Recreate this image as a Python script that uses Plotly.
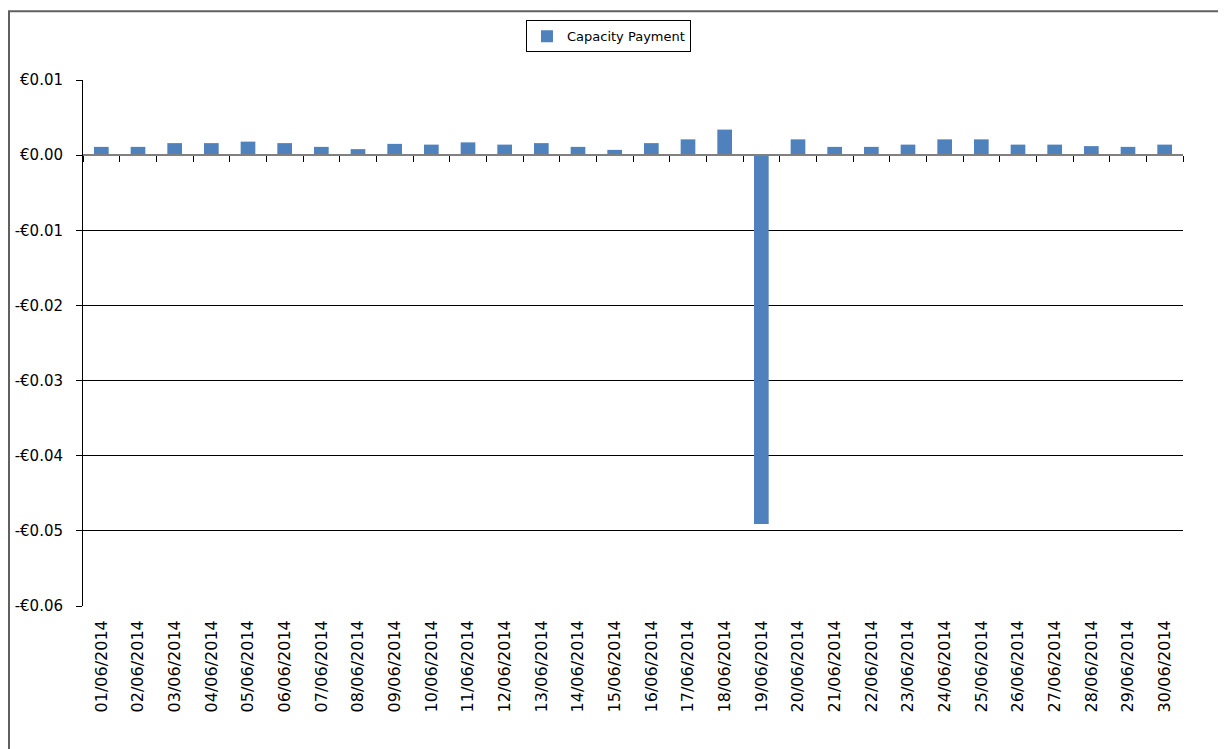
import plotly.graph_objects as go

dates = [f"{d:02d}/06/2014" for d in range(1, 31)]
values = [0.0011, 0.0011, 0.0016, 0.0016, 0.0018, 0.0016, 0.0011, 0.0008, 0.0015, 0.0014,
          0.0017, 0.0014, 0.0016, 0.0011, 0.0007, 0.0016, 0.0021, 0.0034, -0.0491, 0.0021,
          0.0011, 0.0011, 0.0014, 0.0021, 0.0021, 0.0014, 0.0014, 0.0012, 0.0011, 0.0014]
series_name = "Capacity Payment"
y_tick_vals = [0.01, 0.0, -0.01, -0.02, -0.03, -0.04, -0.05, -0.06]
y_tick_text = ["€0.01", "€0.00", "-€0.01", "-€0.02", "-€0.03", "-€0.04", "-€0.05", "-€0.06"]

FONT = "DejaVu Sans"
W, H = 1218, 741
ML, MR, MT, MB = 75, 43, 70, 143
PW, PH = W - ML - MR, H - MT - MB

fig = go.Figure()
fig.add_trace(go.Bar(x=dates, y=values, name=series_name,
                     marker=dict(color="#4F81BD", line=dict(width=0))))
# invisible companion trace to host the zero-crossing category axis
fig.add_trace(go.Bar(x=dates, y=values, xaxis="x2", showlegend=False,
                     opacity=0, hoverinfo="skip"))

zero_pos = (0 - y_tick_vals[-1]) / (y_tick_vals[0] - y_tick_vals[-1])

fig.update_layout(
    width=W, height=H,
    margin=dict(l=ML, r=MR, t=MT, b=MB),
    paper_bgcolor="white", plot_bgcolor="white",
    font=dict(family=FONT, size=16, color="black"),
    bargap=0.6,
    showlegend=True,
    legend=dict(x=0.4777, y=1.0833, xanchor="center", yanchor="middle",
                orientation="h", bordercolor="black", borderwidth=1,
                font=dict(family=FONT, size=13), itemwidth=30,
                bgcolor="white"),
    xaxis=dict(type="category", tickangle=-90, showline=False, ticks="",
               showgrid=False, ticklabelstandoff=10, tickfont=dict(size=16),
               automargin=False),
    xaxis2=dict(type="category", overlaying="x", anchor="free", position=zero_pos,
                side="bottom", showline=True, linecolor="#808080", linewidth=2,
                ticks="outside", tickson="boundaries", ticklen=6, tickcolor="black",
                tickwidth=1, showticklabels=False, showgrid=False, matches="x",
                automargin=False),
    yaxis=dict(range=[y_tick_vals[-1], y_tick_vals[0]], tickvals=y_tick_vals,
               ticktext=y_tick_text, showgrid=True, gridcolor="black", gridwidth=1,
               zeroline=False, showline=True, linecolor="black", linewidth=1,
               ticks="outside", ticklen=6, tickcolor="black",
               ticklabelstandoff=10, tickfont=dict(size=15), automargin=False),
    shapes=[dict(type="rect", xref="paper", yref="paper",
                 x0=-(ML - 1) / PW, x1=1.2, y0=-0.5, y1=1 + (MT - 1) / PH,
                 line=dict(color="#606060", width=2), fillcolor="rgba(0,0,0,0)",
                 layer="below")],
)

fig.write_html("out.html")
